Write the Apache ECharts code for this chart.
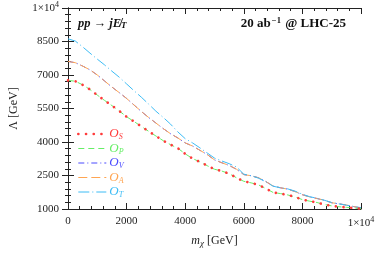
<!DOCTYPE html>
<html>
<head>
<meta charset="utf-8">
<script src="https://cdn.jsdelivr.net/npm/echarts@6/dist/echarts.min.js"></script>
<style>html,body{margin:0;padding:0;background:#fff}#c{width:382px;height:253px}</style>
</head>
<body>
<div id="c"></div>
<script>
const massGeV = [0,250,500,750,1000,1250,1500,1750,2000,2250,2500,2750,3000,3250,3500,3750,4000,4250,4500,4750,5000,5250,5500,5750,6000,6250,6500,6750,7000,7250,7500,7750,8000,8250,8500,8750,9000,9250,9500,9750,10000];
const lambdaSP = [6760,6720,6560,6350,6100,5860,5630,5390,5130,4920,4700,4480,4270,4060,3880,3720,3470,3260,3110,2940,2780,2700,2580,2400,2240,2170,2080,1920,1740,1690,1630,1540,1420,1350,1290,1200,1140,1100,1075,1045,1010];
const lambdaVA = [7610,7550,7400,7230,7000,6730,6460,6210,5950,5660,5370,5100,4850,4600,4370,4180,3960,3820,3630,3440,3200,3070,2950,2780,2540,2490,2400,2230,2030,1950,1890,1780,1640,1540,1470,1390,1280,1230,1180,1110,1040];
const lambdaT = [8620,8520,8260,7980,7710,7450,7170,6900,6600,6300,6010,5700,5380,5100,4800,4450,4150,3960,3740,3510,3280,3150,3030,2880,2560,2490,2380,2220,2020,1950,1900,1800,1660,1550,1480,1390,1290,1230,1170,1110,1060];
const seriesNames = ['S','P','V','A','T'];
const seriesColors = {S:'#ff3b3b',P:'#66ee66',V:'#4a4aff',A:'#ffa552',T:'#3dbcf5'};
const seriesDash = {S:[0.1,7.6],P:[6,4],V:[6,3,1,3],A:[9,4],T:[11,3,1,3]};
const seriesData = {S:lambdaSP,P:lambdaSP,V:lambdaVA,A:lambdaVA,T:lambdaT};
const xTickMax = 10000, yTickMax = 10000;

const FONT = 'Liberation Serif';
const chart = echarts.init(document.getElementById('c'), null, {renderer:'canvas'});

function pairs(ys){ return massGeV.map((x,i)=>[x, ys[i]]); }
const drawOrder = ['V','A','T','P','S'];
const lineWidth = k => k==='S' ? 2.6 : 1;
const series = drawOrder.map(k => ({
  name: k, type: 'line', xAxisIndex: 0, yAxisIndex: 0,
  data: pairs(seriesData[k]), symbol: 'none', smooth: false,
  lineStyle: {color: seriesColors[k], width: lineWidth(k), type: seriesDash[k], cap: k==='S'?'round':'butt'},
  itemStyle: {color: seriesColors[k]},
  emphasis: {disabled: true}, animation: false
}));

const labelStyle = {fontFamily: FONT, fontSize: 11, color: '#222',
  rich: {a:{fontFamily:FONT,fontSize:11,color:'#222'}, s:{fontFamily:FONT,fontSize:8,color:'#222',verticalAlign:'top',padding:[0,0,6,0]}}};

const tickCommon = {inside: true, length: 6, lineStyle: {color:'#222', width: 1}};
const minorCommon = {show: true, splitNumber: 5, length: 3, lineStyle: {color:'#222', width: 1}};

const option = {
  animation: false,
  grid: {left: 63, right: 21, top: 8, bottom: 38, containLabel: false},
  legend: {
    orient: 'vertical', left: 72, top: 122, itemWidth: 28, itemHeight: 12, itemGap: 0.5,
    itemStyle: {opacity: 0},
    data: seriesNames.map(k => ({name: k, textStyle: {color: seriesColors[k]},
      lineStyle: {width: lineWidth(k), type: seriesDash[k], color: seriesColors[k], cap: k==='S'?'round':'butt'}})),
    formatter: n => '{o|O}{s|' + n + '}',
    textStyle: {fontFamily: FONT, fontSize: 13, lineHeight: 14, padding: [0,0,0,-2],
      rich: {o:{fontFamily:FONT,fontStyle:'italic',fontSize:13,lineHeight:14}, s:{fontFamily:FONT,fontStyle:'italic',fontSize:8,lineHeight:14,verticalAlign:'bottom',padding:[5,0,0,0]}}},
    selectedMode: false
  },
  xAxis: [{
    type: 'value', min: 0, max: 10000, interval: 2000, position: 'bottom',
    axisLine: {lineStyle: {color:'#222', width: 1}}, axisTick: tickCommon, minorTick: minorCommon,
    splitLine: {show: false},
    axisLabel: Object.assign({margin: 7, formatter: v => v === xTickMax ? '{a|1×10}{s|4}' : String(v)}, labelStyle),
    name: '{i|m}{c|χ}{a| [GeV]}', nameLocation: 'middle', nameGap: 25,
    nameTextStyle: {fontFamily: FONT, fontSize: 12, color:'#222',
      rich: {i:{fontFamily:FONT,fontStyle:'italic',fontSize:12,color:'#222'}, c:{fontFamily:FONT,fontStyle:'italic',fontSize:9,color:'#222',verticalAlign:'bottom',padding:[5,0,0,0]}, a:{fontFamily:FONT,fontSize:12,color:'#222'}}}
  },{
    type: 'value', min: 0, max: 10000, interval: 2000, position: 'top',
    axisLine: {lineStyle: {color:'#222', width: 1}}, axisTick: tickCommon, minorTick: minorCommon,
    splitLine: {show: false}, axisLabel: {show: false}
  }],
  yAxis: [{
    type: 'value', min: 1000, max: 10000, interval: 1500, position: 'left',
    axisLine: {show: true, lineStyle: {color:'#222', width: 1}}, axisTick: Object.assign({show:true}, tickCommon), minorTick: minorCommon,
    splitLine: {show: false},
    axisLabel: Object.assign({margin: 9, formatter: v => v === yTickMax ? '{a|1×10}{s|4}' : String(v)}, labelStyle),
    name: 'Λ [GeV]', nameLocation: 'middle', nameRotate: 90, nameGap: 48,
    nameTextStyle: {fontFamily: FONT, fontSize: 12, color:'#222'}
  },{
    type: 'value', min: 1000, max: 10000, interval: 1500, position: 'right',
    axisLine: {show: true, lineStyle: {color:'#222', width: 1}}, axisTick: Object.assign({show:true}, tickCommon), minorTick: minorCommon,
    splitLine: {show: false}, axisLabel: {show: false}
  }],
  graphic: [
    {type: 'text', left: 78, top: 17, z: 100, style: {
      text: '{b|pp → j}{b|E\u0338}{t|T}',
      rich: {b:{fontFamily:FONT,fontStyle:'italic',fontWeight:'bold',fontSize:12.5,fill:'#111'}, t:{fontFamily:FONT,fontStyle:'italic',fontWeight:'bold',fontSize:9,fill:'#111',verticalAlign:'bottom',padding:[5,0,0,0]}}
    }},
    {type: 'text', right: 36, top: 16, z: 100, style: {
      text: '{b|20 ab}{s|−1}{b| @ LHC-25}',
      rich: {b:{fontFamily:FONT,fontWeight:'bold',fontSize:13,fill:'#111'}, s:{fontFamily:FONT,fontWeight:'bold',fontSize:8.5,fill:'#111',verticalAlign:'top',padding:[0,1,6,1]}}
    }}
  ],
  series: series
};
chart.setOption(option);
</script>
</body>
</html>
